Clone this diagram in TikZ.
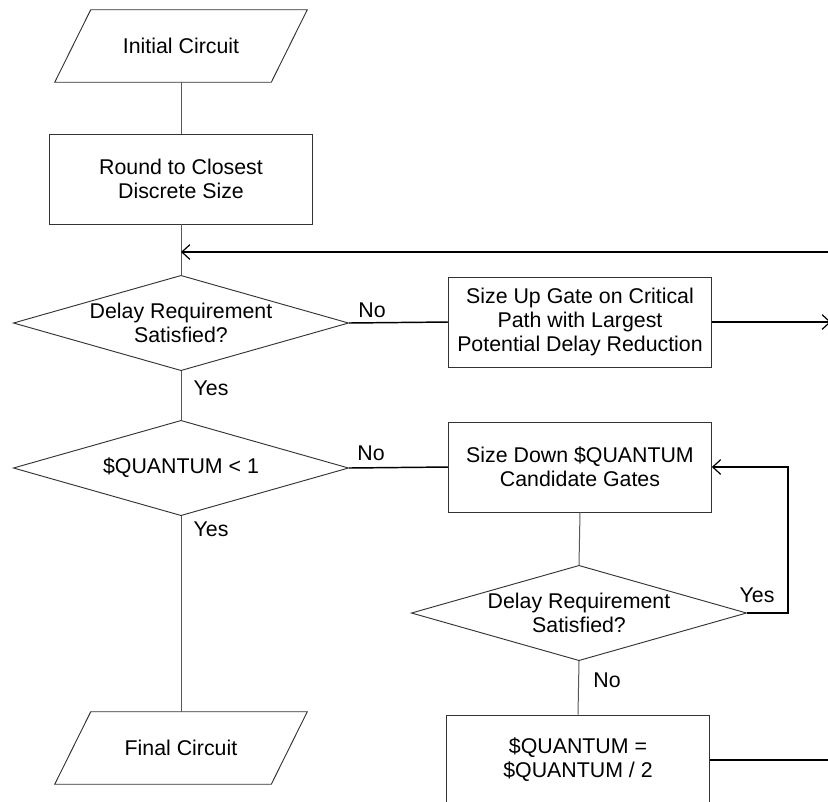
\documentclass[tikz,border=0pt]{standalone}
\usepackage{fontspec}
\setmainfont{Liberation Sans}
\usetikzlibrary{shapes.geometric,arrows.meta}
\begin{document}
\begin{tikzpicture}[x=0.75pt,y=-0.75pt,
  font=\fontsize{16}{18}\selectfont,
  box/.style={draw=black!80,line width=0.7pt,rectangle,minimum width=197pt,minimum height=67.5pt,align=center,inner sep=0pt},
  dec/.style={draw=black!80,line width=0.7pt,diamond,aspect=3.5,minimum width=251.5pt,minimum height=71.5pt,inner sep=0pt,align=center},
  io/.style={rectangle,minimum width=162pt,minimum height=54pt,align=center,inner sep=0pt},
  para/.style={draw=black!80,line width=0.7pt},
  thin/.style={draw=black!65,line width=0.75pt},
  thick/.style={draw=black,line width=1.1pt},
  tip/.style={-{Straight Barb[length=6pt,width=11pt,line width=0.9pt]}},
  lbl/.style={inner sep=0pt}]
\useasboundingbox (0,0) rectangle (828,801);
\clip (0,0) rectangle (828,801);

\node[io]  (ic)    at (181,46)  {Initial Circuit};
\node[box] (round) at (181,179) {Round to Closest\\Discrete Size};
\node[dec] (d1)    at (181,323) {Delay Requirement\\Satisfied?};
\node[dec] (d2)    at (181,468) {\$QUANTUM < 1};
\node[io]  (fc)    at (181,748) {Final Circuit};
\node[box] (up)    at (580,322) {Size Up Gate on Critical\\Path with Largest\\Potential Delay Reduction};
\node[box] (down)  at (580,467) {Size Down \$QUANTUM\\Candidate Gates};
\node[dec] (d3)    at (579,613) {Delay Requirement\\Satisfied?};
\node[box] (half)  at (578,760) {\$QUANTUM =\\\$QUANTUM / 2};

\foreach \n in {ic,fc}{
  \draw[para] ([xshift=13.5pt]\n.north west) -- ([xshift=13.5pt]\n.north east)
    -- ([xshift=-13.5pt]\n.south east) -- ([xshift=-13.5pt]\n.south west) -- cycle;
}

\coordinate (j1) at (181,252);
\coordinate (r1) at (840,252);
\coordinate (r2) at (831,322);
\coordinate (r3) at (840,760);

\draw[thin] (ic.south) -- (round.north);
\draw[thin] (round.south) -- (d1.north);
\draw[thick,tip] (r1) -- (j1);
\draw[thick] (d1.east) -- (up.west);
\draw[thick,tip] (up.east) -- (r2);
\draw[thin] (d1.south) -- (d2.north);
\draw[thick] (d2.east) -- (down.west);
\draw[thin] (d2.south) -- (fc.north);
\draw[thin] (down.south) -- (d3.north);
\draw[thick,tip] (d3.east) -- ++(41,0) |- (down.east);
\draw[thin] (d3.south) -- (half.north);
\draw[thick] (half.east) -- (r3);

\node[lbl] (l1) at (372,310) {No};
\node[lbl] (l2) at (211,388) {Yes};
\node[lbl] (l3) at (371,453) {No};
\node[lbl] (l4) at (211,529) {Yes};
\node[lbl] (l5) at (757,595) {Yes};
\node[lbl] (l6) at (607,680) {No};
\end{tikzpicture}
\end{document}
